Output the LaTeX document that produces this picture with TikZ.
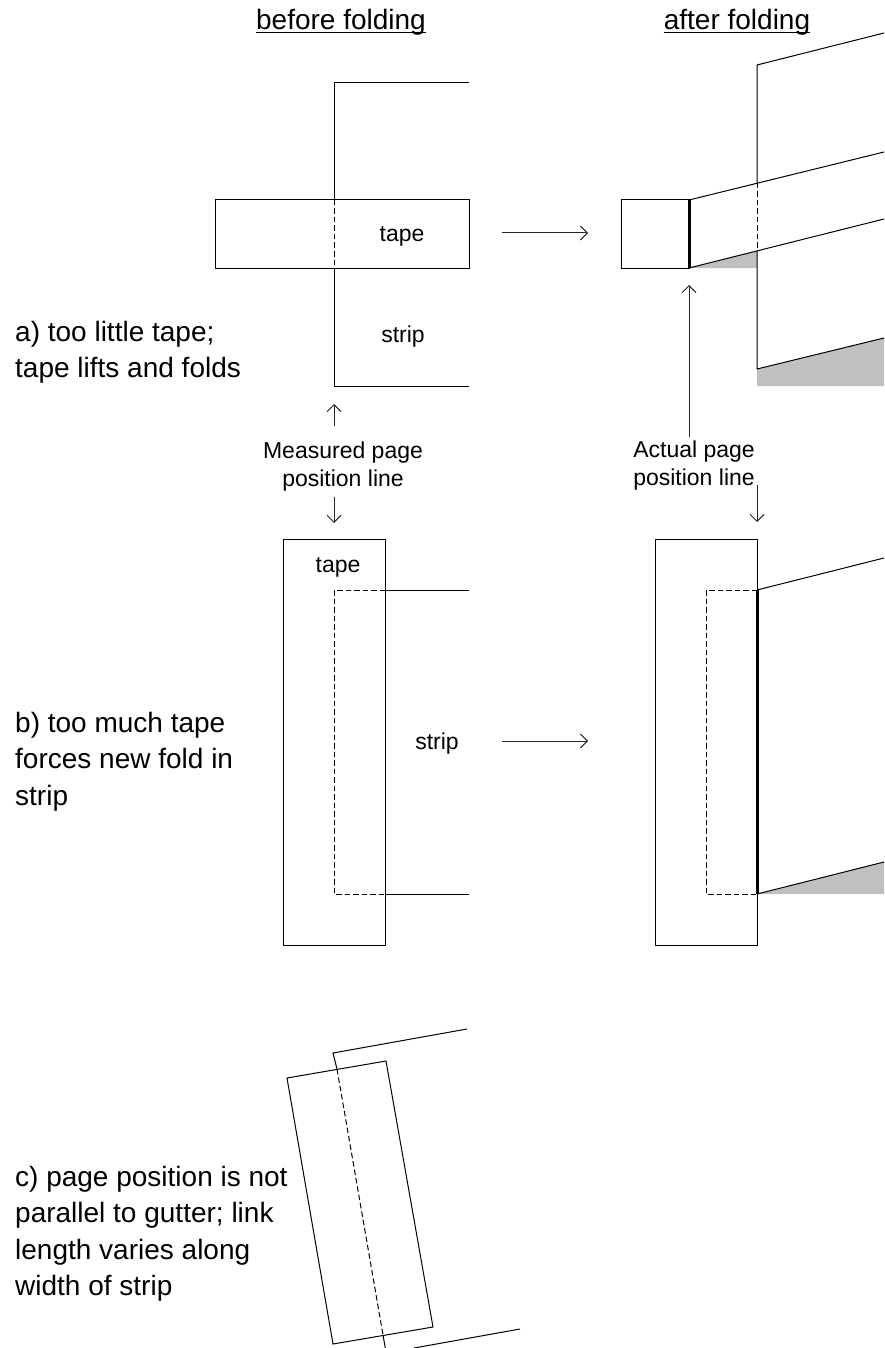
\documentclass[tikz,border=0pt]{standalone}
\usepackage{fontspec}
\setmainfont{Liberation Sans}
\usetikzlibrary{arrows.meta}
\definecolor{foldgray}{HTML}{C0C0C0}
\tikzset{
  edge/.style={line width=1pt, draw=black},
  hidden/.style={edge, dash pattern=on 5.5pt off 3pt},
  crease/.style={line width=3pt, draw=black},
  shade/.style={fill=foldgray, draw=none},
  arrow/.style={
    -{Straight Barb[length=7pt,width=14pt]},
    line width=1pt,
    draw=black!85
  },
  rule/.style={line width=1.8pt, draw=black},
  heading/.style={font=\fontsize{28}{34}\selectfont, inner sep=0pt, anchor=base},
  caption/.style={font=\fontsize{28}{36.3}\selectfont, align=left, anchor=north west, inner sep=0pt},
  tag/.style={font=\fontsize{23}{28}\selectfont, align=center, inner sep=0pt}
}
\begin{document}
\begin{tikzpicture}[x=1pt,y=-1pt]
\useasboundingbox (0,0) rectangle (884,1348);
\clip (0,0) rectangle (884,1348);
% headings
\node[heading] (before) at (341,30) {before folding};
\node[heading] (after) at (737,30) {after folding};
\draw[rule] ([yshift=-2.5pt]before.base west) -- ([yshift=-2.5pt]before.base east);
\draw[rule] ([yshift=-2.5pt]after.base west) -- ([yshift=-2.5pt]after.base east);
% captions
\node[caption] (capa) at (15,321) {a) too little tape;\\tape lifts and folds};
\node[caption] (capb) at (15,712) {b) too much tape\\forces new fold in\\strip};
\node[caption] (capc) at (15,1166) {c) page position is not\\parallel to gutter; link\\length varies along\\width of strip};
% row a, before
\draw[edge] (469,83) -- (334,83) -- (334,200);
\draw[edge] (334,268) -- (334,386) -- (469,386);
\draw[hidden] (334,200) -- (334,268);
\draw[edge] (215,200) rectangle (469,268);
\node[tag] (tapea) at (402,236) {tape};
\node[tag] (stripa) at (403,337) {strip};
% row a, after
\fill[shade] (689,268) -- (757,251) -- (757,268) -- cycle;
\fill[shade] (757,369) -- (884,338) -- (884,386) -- (757,386) -- cycle;
\draw[edge] (621,200) rectangle (689,268);
\draw[edge] (884,33) -- (757,65) -- (757,183);
\draw[hidden] (757,183) -- (757,251);
\draw[edge] (757,251) -- (757,369) -- (884,338);
\draw[edge] (689,200) -- (884,152);
\draw[edge] (689,268) -- (884,219);
\draw[crease] (689,200) -- (689,268);
% row b, before
\draw[edge] (283,539) rectangle (385,945);
\draw[edge] (385,590) -- (469,590);
\draw[edge] (385,894) -- (469,894);
\draw[hidden] (385,590) -- (334,590) -- (334,894) -- (385,894);
\node[tag] (tapeb) at (338,567) {tape};
\node[tag] (stripb) at (437,744) {strip};
% row b, after
\fill[shade] (757,894) -- (884,862) -- (884,894) -- cycle;
\draw[edge] (655,539) rectangle (757,945);
\draw[hidden] (757,590) -- (706,590) -- (706,894) -- (757,894);
\draw[edge] (757,590) -- (884,558);
\draw[edge] (757,894) -- (884,862);
\draw[crease] (757,590) -- (757,894);
% row c
\draw[edge] (467,1029) -- (333,1053) -- (337,1069);
\draw[hidden] (337,1069) -- (383,1335);
\draw[edge] (383,1335) -- (386,1352);
\draw[edge] (520,1329) -- (414,1348);
\draw[edge] (287,1078) -- (386,1061) -- (433,1327) -- (333,1344) -- cycle;
% page position lines
\node[tag] (measured) at (343,467) {Measured page\\position line};
\node[tag] (actual) at (694,466) {Actual page\\position line};
\coordinate (mup) at (334,404);
\coordinate (mupfrom) at (334,426);
\coordinate (mdown) at (334,523);
\coordinate (mdownfrom) at (334,497);
\coordinate (aup) at (689,285);
\coordinate (aupfrom) at (689,437);
\coordinate (adown) at (757,522);
\coordinate (adownfrom) at (757,485);
\draw[arrow] (mupfrom) -- (mup);
\draw[arrow] (mdownfrom) -- (mdown);
\draw[arrow] (aupfrom) -- (aup);
\draw[arrow] (adownfrom) -- (adown);
% folding arrows
\coordinate (foldastart) at (502,233);
\coordinate (foldaend) at (588,233);
\coordinate (foldbstart) at (502,741);
\coordinate (foldbend) at (588,741);
\draw[arrow] (foldastart) -- (foldaend);
\draw[arrow] (foldbstart) -- (foldbend);
\end{tikzpicture}
\end{document}
